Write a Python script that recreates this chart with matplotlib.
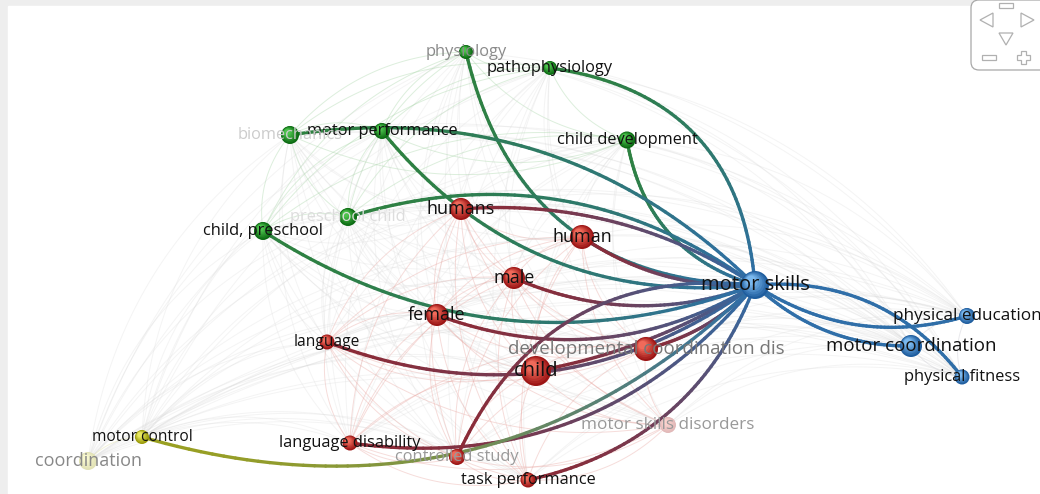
import numpy as np
import matplotlib
matplotlib.use("Agg")
import matplotlib.pyplot as plt
from matplotlib.patches import Circle, Rectangle, FancyBboxPatch, Polygon
from matplotlib.collections import LineCollection
from matplotlib.colors import to_rgb
from itertools import combinations

#########################################################################
#                      NETWORK DATA (layout coordinates)
#########################################################################
labels = ["motor skills", "physical education", "motor coordination", "physical fitness",
          "physiology", "pathophysiology", "motor performance", "biomechanics",
          "child development", "preschool child", "child, preschool",
          "humans", "human", "male", "female", "language",
          "developmental coordination dis", "child", "language disability",
          "controlled study", "task performance", "motor skills disorders",
          "motor control", "coordination"]
node_x = [755, 967, 911, 962, 466, 550, 382, 290, 627, 348, 263,
          461, 582, 514, 437, 327, 646, 536, 350, 457, 528, 668, 142, 88]
node_y = [285, 316, 346, 377, 52, 68, 131, 135, 140, 217, 231,
          209, 237, 278, 315, 342, 349, 371, 443, 457, 480, 425, 437, 461]
node_weight = [14, 8, 11, 7.5, 7, 7, 8, 9, 8.5, 9, 9,
               11, 12, 11, 11, 7.5, 12, 15, 7.5, 8, 7.5, 8, 7, 9]
# 0 red, 1 green, 2 blue, 3 yellow
cluster = [2, 2, 2, 2, 1, 1, 1, 1, 1, 1, 1,
           0, 0, 0, 0, 0, 0, 0, 0, 0, 0, 0, 3, 3]

# highlighted links of "motor skills"
links = ["physiology", "pathophysiology", "child development", "biomechanics",
         "motor performance", "preschool child", "humans", "human", "male",
         "female", "child, preschool", "language", "child",
         "developmental coordination dis", "language disability", "motor control",
         "controlled study", "task performance", "physical education",
         "motor coordination", "physical fitness"]
link_bend = [0.39, -0.40, 0.31, -0.25, 0.27, -0.25, -0.17, 0.17, 0.20,
             0.24, 0.25, 0.27, 0.10, 0.15, 0.28, 0.29, -0.36, 0.27,
             -0.23, -0.20, 0.27]

#########################################################################
#                      STYLE
#########################################################################
node_dark = {0: "#9c1515", 1: "#0b6a12", 2: "#1f5d9e", 3: "#9a9a08"}
node_light = {0: "#f06a5a", 1: "#4cc24c", 2: "#7ab8ee", 3: "#e8e860"}
edge_col = {0: "#8c2a36", 1: "#2e8140", 2: "#2f6ea8", 3: "#9aa022"}
faint_col = {0: "#e9a9a4", 1: "#a9d6a9", 2: "#c8c8d0", 3: "#e0e0a0"}

label_style = {
    "motor skills": (14.5, "#111111"), "physical education": (12.3, "#111111"),
    "motor coordination": (13.5, "#111111"), "physical fitness": (11.8, "#111111"),
    "physiology": (11.8, "#8a8a8a"), "pathophysiology": (11.8, "#111111"),
    "motor performance": (11.8, "#111111"), "biomechanics": (11.8, "#cccccc"),
    "child development": (11.8, "#111111"), "preschool child": (11.8, "#dddddd"),
    "child, preschool": (11.8, "#111111"), "humans": (13, "#111111"),
    "human": (13, "#111111"), "male": (13, "#111111"), "female": (13, "#111111"),
    "language": (11.2, "#111111"), "developmental coordination dis": (13.5, "#777777"),
    "child": (14.5, "#111111"), "language disability": (11.8, "#111111"),
    "controlled study": (11.8, "#9a9a9a"), "task performance": (11.8, "#111111"),
    "motor skills disorders": (12.3, "#999999"), "motor control": (11.2, "#111111"),
    "coordination": (13, "#888888"),
}
faded_nodes = {"motor skills disorders", "coordination"}

plt.rcParams['font.family'] = ['Open Sans', 'DejaVu Sans']

pos = {l: np.array([x, y], float) for l, x, y in zip(labels, node_x, node_y)}
clu = dict(zip(labels, cluster))
rad = dict(zip(labels, node_weight))


def curve(a, b, k, n=60):
    d = b - a
    L = np.hypot(*d)
    nrm = np.array([-d[1], d[0]]) / L
    c = (a + b) / 2 + k * L * nrm
    t = np.linspace(0, 1, n)[:, None]
    return (1 - t) ** 2 * a + 2 * (1 - t) * t * c + t ** 2 * b


fig = plt.figure(figsize=(10.4, 4.94), dpi=100)
ax = fig.add_axes([0, 0, 1, 1])
ax.set_xlim(0, 1040)
ax.set_ylim(494, 0)
ax.set_aspect("equal")
ax.axis("off")

# page background
ax.add_patch(Rectangle((0, 0), 1040, 494, color="#eeeeee", zorder=0))
ax.add_patch(Rectangle((8, 6), 1040, 494, color="white", zorder=0))

# faint background links
for a, b in combinations(labels, 2):
    if a == "motor skills" or b == "motor skills":
        continue
    ca, cb = clu[a], clu[b]
    col = faint_col[ca] if ca == cb else "#d8d8d8"
    alpha = 0.4 if ca == cb else 0.28
    p = curve(pos[a], pos[b], 0.22)
    ax.plot(p[:, 0], p[:, 1], color=col, lw=0.7, alpha=alpha, zorder=1)

# highlighted links (gradient from source colour to target colour)
tgt = pos["motor skills"]
for src, k in zip(links, link_bend):
    p = curve(pos[src], tgt, k)
    segs = np.stack([p[:-1], p[1:]], axis=1)
    c0 = np.array(to_rgb(edge_col[clu[src]]))
    c1 = np.array(to_rgb(edge_col[2]))
    t = np.linspace(0, 1, len(segs))[:, None]
    t = t ** 1.5
    cols = (1 - t) * c0 + t * c1
    ax.add_collection(LineCollection(segs, colors=cols, linewidths=2.4,
                                     capstyle="round", zorder=3))

# nodes drawn as shaded spheres
for l in labels:
    x, y = pos[l]
    r = rad[l]
    cd = np.array(to_rgb(node_dark[clu[l]]))
    cl = np.array(to_rgb(node_light[clu[l]]))
    if l in faded_nodes:
        cd = cd * 0.3 + 0.7
        cl = cl * 0.3 + 0.7
    steps = 7
    for i in range(steps):
        f = i / (steps - 1)
        rr = r * (1 - 0.65 * f)
        cx = x - 0.28 * r * f
        cy = y - 0.32 * r * f
        col = (1 - f) * cd + f * cl
        ax.add_patch(Circle((cx, cy), rr, color=col, lw=0, zorder=4))

# labels
for l in labels:
    fs, col = label_style[l]
    ax.text(pos[l][0], pos[l][1], l, ha="center", va="center", fontsize=fs,
            color=col, zorder=5)

# navigation control
ax.add_patch(FancyBboxPatch((971, 0), 80, 70, boxstyle="round,pad=0,rounding_size=8",
                            fc="white", ec="#a8a8a8", lw=0.9, zorder=6))
gray = "#b0b0b0"
ax.add_patch(Polygon([[993, 13], [993, 27], [980, 20]], closed=True, fill=False, ec=gray, lw=0.9, zorder=7))
ax.add_patch(Polygon([[1021, 13], [1021, 27], [1034, 20]], closed=True, fill=False, ec=gray, lw=0.9, zorder=7))
ax.add_patch(Polygon([[999, 33], [1013, 33], [1006, 45]], closed=True, fill=False, ec=gray, lw=0.9, zorder=7))
ax.add_patch(Polygon([[999, 8], [1013, 8], [1013, 3], [999, 3]], closed=True, fill=False, ec=gray, lw=0.9, zorder=7))
ax.add_patch(Rectangle((982, 55), 14, 5, fill=False, ec=gray, lw=0.9, zorder=7))
plus = [[1021, 55], [1021, 51], [1026, 51], [1026, 55], [1030, 55], [1030, 60], [1026, 60],
        [1026, 64], [1021, 64], [1021, 60], [1017, 60], [1017, 55]]
ax.add_patch(Polygon(plus, closed=True, fill=False, ec=gray, lw=0.9, zorder=7))

fig.savefig("out.png", dpi=100)
